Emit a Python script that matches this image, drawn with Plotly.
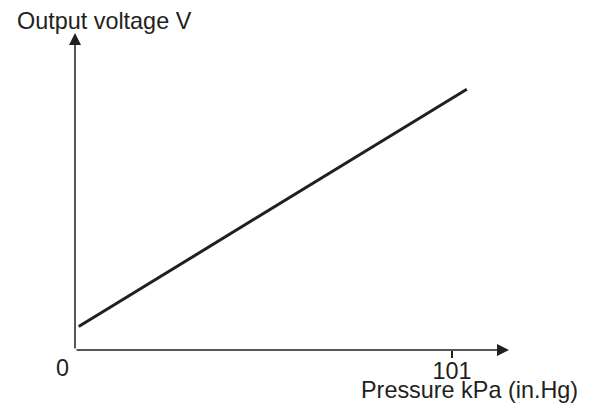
import plotly.graph_objects as go

# Data (arbitrary voltage units; axis has no voltage ticks)
pressure_kpa = [1, 105]
output_voltage = [0.5, 5.55]
x_tick_vals = [101]
x_tick_text = ["101"]
origin_label = "0"
y_title = "Output voltage V"
x_title = "Pressure kPa (in.Hg)"

FONT = "Liberation Sans, Arial, Helvetica, sans-serif"
INK = "#231f20"

OFF = 8  # page body margin offset
W, H = 592 - OFF, 405 - OFF
L, T = 75 - OFF, 33 - OFF
R = W - (509 - OFF)
B = H - (350 - OFF)
x_max = 116.3
y_max = 6.745

fig = go.Figure()
fig.add_trace(go.Scatter(
    x=pressure_kpa, y=output_voltage, mode="lines",
    line=dict(color=INK, width=3), hoverinfo="skip", showlegend=False,
))

# axes with arrow heads
fig.add_annotation(x=x_max, y=0, ax=0, ay=0, xref="x", yref="y", axref="x", ayref="y",
                   text="", showarrow=True, arrowhead=2, arrowsize=1.6, arrowwidth=1.5,
                   arrowcolor=INK)
fig.add_annotation(x=0, y=y_max, ax=0, ay=0, xref="x", yref="y", axref="x", ayref="y",
                   text="", showarrow=True, arrowhead=2, arrowsize=1.6, arrowwidth=1.5,
                   arrowcolor=INK)

pw = W - L - R
ph = H - T - B

def px(xp):
    return (xp - OFF - L) / pw

def py(yp):
    return (H - B - (yp - OFF)) / ph

fig.add_annotation(x=px(15), y=py(21), xref="paper", yref="paper", text=y_title,
                   showarrow=False, xanchor="left", yanchor="middle",
                   font=dict(family=FONT, size=23.4, color=INK))
fig.add_annotation(x=px(580), y=py(390), xref="paper", yref="paper", text=x_title,
                   showarrow=False, xanchor="right", yanchor="middle",
                   font=dict(family=FONT, size=23.4, color=INK))
fig.add_annotation(x=px(62.5), y=py(368), xref="paper", yref="paper", text=origin_label,
                   showarrow=False, xanchor="center", yanchor="middle",
                   font=dict(family=FONT, size=23.4, color=INK))

fig.update_xaxes(range=[0, x_max], showgrid=False, zeroline=False, showline=False,
                 tickvals=x_tick_vals, ticktext=x_tick_text, ticks="outside",
                 ticklen=7, tickwidth=1.5, tickcolor=INK, automargin=False,
                 ticklabelstandoff=-7,
                 tickfont=dict(family=FONT, size=23.4, color=INK))
fig.update_yaxes(range=[0, y_max], showgrid=False, zeroline=False, showline=False,
                 showticklabels=False, ticks="", automargin=False)

fig.update_layout(
    width=W, height=H, margin=dict(l=L, r=R, t=T, b=B, autoexpand=False),
    paper_bgcolor="white", plot_bgcolor="white",
)

fig.write_html("out.html")
